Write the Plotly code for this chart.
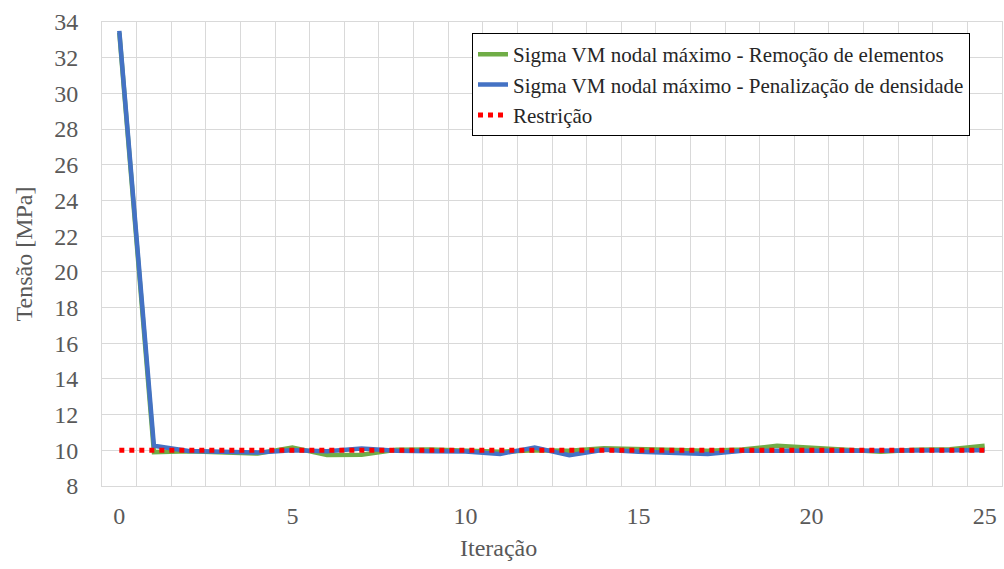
import plotly.graph_objects as go

iteracao = list(range(26))
remocao = [33.4, 9.9, 9.95, 9.9, 9.82, 10.15, 9.74, 9.75, 10.03, 10.05, 10.0, 9.92,
           10.0, 9.98, 10.12, 10.05, 10.0, 9.97, 10.05, 10.25, 10.15, 10.05, 9.92,
           10.03, 10.06, 10.25]
penalizacao = [33.5, 10.25, 9.96, 9.9, 9.88, 10.0, 9.95, 10.1, 9.97, 9.95, 9.93, 9.8,
               10.15, 9.72, 10.03, 9.92, 9.88, 9.8, 9.97, 10.0, 9.97, 9.97, 9.97,
               9.98, 10.0, 10.0]
restricao = [10] * 26

names = ["Sigma VM nodal máximo - Remoção de elementos",
         "Sigma VM nodal máximo - Penalização de densidade",
         "Restrição"]

FONT = "Liberation Serif"
GRAY = "#595959"
GRID = "#d9d9d9"
TICKFONT = dict(family=FONT, size=24, color=GRAY)

fig = go.Figure()
fig.add_trace(go.Scatter(x=iteracao, y=remocao, mode="lines", name=names[0],
                         line=dict(color="#70ad47", width=4.5)))
fig.add_trace(go.Scatter(x=iteracao, y=penalizacao, mode="lines", name=names[1],
                         line=dict(color="#4472c4", width=4.5)))
fig.add_trace(go.Scatter(x=iteracao, y=restricao, mode="lines", name=names[2],
                         line=dict(color="#ff0000", width=5, dash="5px,5px")))

fig.update_layout(
    width=1004, height=569,
    margin=dict(l=102, r=2, t=22, b=83),
    paper_bgcolor="white", plot_bgcolor="white",
    font=dict(family=FONT, color=GRAY, size=24),
    showlegend=True,
    legend=dict(x=(472 - 102) / 900, y=0.976, xanchor="left", yanchor="top",
                bordercolor="#000000", borderwidth=1, bgcolor="white",
                font=dict(family=FONT, size=21, color="#262626"),
                tracegroupgap=0, itemwidth=30),
)
fig.update_xaxes(range=[-0.5, 25.5], tickmode="array", tickvals=[0, 5, 10, 15, 20, 25],
                 showgrid=False, zeroline=False, showline=True, linecolor=GRID, mirror=True,
                 ticks="outside", ticklen=8, tickcolor="rgba(0,0,0,0)",
                 minor=dict(tick0=0.5, dtick=1, showgrid=True, gridcolor=GRID, gridwidth=1, ticks=""),
                 tickfont=TICKFONT)
fig.update_yaxes(range=[8, 34], dtick=2, tick0=8, showgrid=True, gridcolor=GRID, gridwidth=1,
                 zeroline=False, showline=True, linecolor=GRID, mirror=True,
                 ticks="outside", ticklen=18, tickcolor="rgba(0,0,0,0)",
                 tickfont=TICKFONT,
                 title=dict(text="Tensão [MPa]", standoff=14,
                            font=dict(family=FONT, size=24, color=GRAY)))
fig.add_annotation(text="Iteração", xref="paper", yref="paper",
                   x=(498 - 102) / 900, y=-(548 - 486) / 464,
                   xanchor="center", yanchor="middle", showarrow=False,
                   font=dict(family=FONT, size=24, color=GRAY))

fig.write_html("out.html")
